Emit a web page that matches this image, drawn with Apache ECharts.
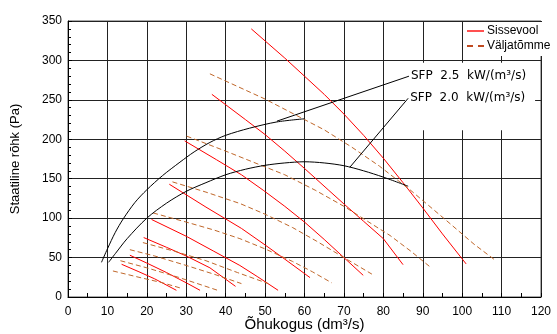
<!DOCTYPE html>
<html>
<head>
<meta charset="utf-8">
<script src="https://cdn.jsdelivr.net/npm/echarts@6/dist/echarts.min.js"></script>
<style>
  html, body { margin: 0; padding: 0; background: #fff; }
  #chart { width: 557px; height: 334px; }
</style>
</head>
<body>
<div id="chart"></div>
<script>
// axis ranges
const xMax = 120;
const yMax = 350;

// Sissevool fan curves (flow dm3/s, pressure Pa), top to bottom
const sissevool = [
  [[46.5,340],[55,303],[60,280],[65,257],[70,232],[75,205],[80,176],[85,145],[90,113],[95,80],[101,42]],
  [[36.5,257],[45,225],[50,206],[55,185],[60,163],[66,136],[70,118],[75,96],[80,74],[85,41]],
  [[29.6,198],[37.7,174],[44,155],[49.5,135.5],[55,115],[60,95],[65,73],[70,50],[74.9,27.5]],
  [[25.7,143],[35,114],[44,87],[50,66],[55,48],[61.4,24.6]],
  [[21.2,98.3],[30,77],[37,58],[43.6,40],[48,26],[53.3,8.5]],
  [[19.2,75.4],[25,63],[30,52],[36,37],[42.5,13.5]],
  [[15.7,53],[20,43],[25,31],[30,18],[33.5,8.5]],
  [[13.6,41.5],[18,32],[22,23],[27.5,8.5]]
];

// Väljatõmme fan curves
const valjatomme = [
  [[36,283],[43,267],[50,251],[60,225],[65,212],[72,190],[79,166],[87,135],[96,97],[103,67],[108.4,46.6]],
  [[30.1,204],[40,185],[50,165],[55,155],[62.7,135.5],[70,115],[76,96],[81.7,78],[87,58],[91.9,38]],
  [[26.5,146],[35,133],[43.6,118.6],[50,105],[57,88],[63,71],[70,50],[77.1,29]],
  [[21.6,106.6],[30,95],[37,85],[43.6,74],[50,61],[57,45],[62,32],[66.9,18]],
  [[19,69],[27,58],[35,46],[43,31],[50.8,17]],
  [[15.7,60],[22,52],[30,40],[37,29],[44,17]],
  [[13.3,46],[20,37],[28,25],[38.5,7.6]],
  [[11.4,33],[18,25],[24,18],[29,10.7]]
];

// SFP curves
const sfp25 = [[8.5,44],[10,61],[12,82],[14,99],[17,120],[20,136],[24,154],[28.4,171],[32,184],[36,196],[40,205],[46,214],[53,222],[60,226]];
const sfp20 = [[10.3,44],[12,55],[15,74],[20,100],[25,119],[30,134],[35,145],[40,155],[45,162],[50,167],[55,170],[60,171.5],[65,170],[70,166.5],[75,160],[80,152],[86.3,140.5]];

// leader lines to labels
const sfp25Leader = [[53,223],[86.5,280]];
const sfp20Leader = [[71.5,164.5],[86.3,252]];
const sfpLabels = ['SFP  2.5  kW/(m\u00b3/s)', 'SFP  2.0  kW/(m\u00b3/s)'];
const labelBox = [[85.5, 297], [118.5, 211.5]];

const font = 'Liberation Sans, Arial, sans-serif';
const red = '#ff0000';
const brown = '#c0672a';

const series = [];

sissevool.forEach(function (d) {
  series.push({
    name: 'Sissevool',
    type: 'line',
    data: d,
    symbol: 'none',
    lineStyle: { color: red, width: 1 },
    itemStyle: { color: red },
    z: 3
  });
});

valjatomme.forEach(function (d) {
  series.push({
    name: 'Väljatõmme',
    type: 'line',
    data: d,
    symbol: 'none',
    lineStyle: { color: brown, width: 1, type: [5, 3] },
    itemStyle: { color: '#c04a20' },
    z: 3
  });
});

[sfp25, sfp20].forEach(function (d) {
  series.push({
    type: 'line',
    data: d,
    smooth: 0.3,
    symbol: 'none',
    lineStyle: { color: '#000', width: 1 },
    z: 4
  });
});

// leader lines with labels, white box behind labels
[sfp25Leader, sfp20Leader].forEach(function (d, i) {
  series.push({
    type: 'line',
    data: d,
    symbol: 'none',
    lineStyle: { color: '#000', width: 1 },
    endLabel: {
      show: true,
      formatter: sfpLabels[i],
      color: '#000',
      fontFamily: 'DejaVu Sans, sans-serif',
      fontSize: 12,
      distance: 2
    },
    markArea: i === 0 ? {
      silent: true,
      itemStyle: { color: '#fff' },
      data: [[{ coord: labelBox[0] }, { coord: labelBox[1] }]]
    } : undefined,
    z: 5
  });
});

const chart = echarts.init(document.getElementById('chart'));
chart.setOption({
  animation: false,
  backgroundColor: '#fff',
  grid: {
    left: 68, right: 16, top: 21, bottom: 37,
    outerBoundsMode: 'none',
    containLabel: false,
    show: true, borderColor: '#555', borderWidth: 1
  },
  legend: {
    data: [
      { name: 'Sissevool', lineStyle: { color: '#ff5050' } },
      { name: 'Väljatõmme', lineStyle: { color: '#c04a20', type: [6, 5] } }
    ],
    orient: 'vertical',
    left: 464,
    top: 22,
    itemWidth: 17,
    itemHeight: 8,
    itemGap: 3,
    padding: [3, 2, 4, 2],
    backgroundColor: '#fff',
    itemStyle: { opacity: 0 },
    textStyle: { fontFamily: font, fontSize: 12, color: '#000', padding: [0, 0, 0, -2] }
  },
  xAxis: {
    type: 'value',
    min: 0,
    max: xMax,
    interval: 10,
    name: 'Õhukogus (dm\u00b3/s)',
    nameLocation: 'middle',
    nameGap: 20,
    nameMoveOverlap: false,
    nameTextStyle: { fontFamily: font, fontSize: 15, color: '#000', verticalAlign: 'top' },
    axisLine: { show: true, lineStyle: { color: '#000' } },
    axisTick: { show: true, inside: true, length: 4, lineStyle: { color: '#000' } },
    minorTick: { show: true, splitNumber: 2, length: 4, lineStyle: { color: '#000' } },
    axisLabel: { fontFamily: font, fontSize: 12, color: '#000', margin: 9 },
    splitLine: { show: true, lineStyle: { color: '#222', width: 1 } }
  },
  yAxis: {
    type: 'value',
    min: 0,
    max: yMax,
    interval: 50,
    name: 'Staatiline rõhk (Pa)',
    nameLocation: 'middle',
    nameGap: 46,
    nameTextStyle: { fontFamily: font, fontSize: 13, color: '#000' },
    axisLine: { show: true, lineStyle: { color: '#000' } },
    axisTick: { show: true, inside: true, length: 4, lineStyle: { color: '#000' } },
    minorTick: { show: true, splitNumber: 5, length: 3, lineStyle: { color: '#000' } },
    axisLabel: { fontFamily: font, fontSize: 12, color: '#000', margin: 6 },
    splitLine: { show: true, lineStyle: { color: '#222', width: 1 } }
  },
  series: series
});
</script>
</body>
</html>
